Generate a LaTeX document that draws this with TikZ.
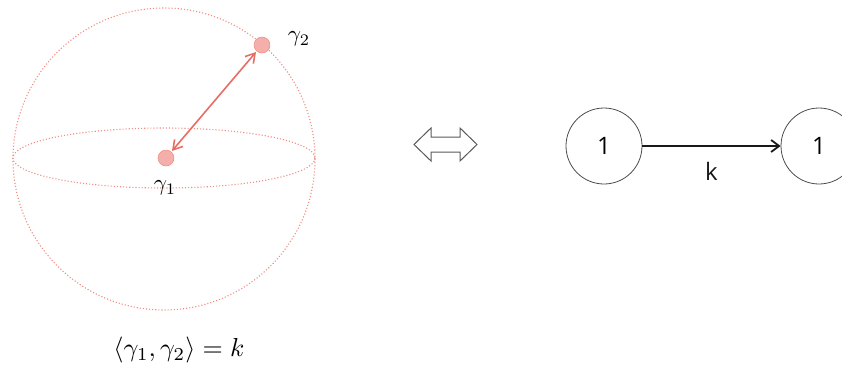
\documentclass[tikz,border=0pt]{standalone}
\usepackage{fontspec}
\newfontfamily\sansf{Open Sans}
\usetikzlibrary{arrows.meta}
\definecolor{sph}{RGB}{240,140,130}
\definecolor{ptfill}{RGB}{245,175,170}
\definecolor{ptdraw}{RGB}{236,140,130}
\definecolor{arr}{RGB}{230,110,100}
\tikzset{
  sphline/.style={draw=sph, dotted, line width=1.1pt},
  pt/.style={circle, fill=ptfill, draw=ptdraw, line width=0.5pt, minimum size=16pt, inner sep=0pt},
  vtx/.style={circle, draw=black!70, line width=0.8pt, minimum size=76pt, inner sep=0pt, font=\sansf\fontsize{24}{24}\selectfont},
  lbl/.style={inner sep=0pt}
}
\begin{document}
\begin{tikzpicture}[x=1pt,y=-1pt]
\useasboundingbox (0,0) rectangle (842,370);
% sphere
\draw[sphline] (164,159) circle (151);
\draw[sphline] (164,158) ellipse (151 and 30);
% points
\node[pt] (g1) at (166,158) {};
\node[pt] (g2) at (262,45) {};
\draw[arr, line width=1.6pt, {Straight Barb[length=9pt,width=11pt]}-{Straight Barb[length=9pt,width=11pt]}, shorten <=1pt, shorten >=1pt] (g1) -- (g2);
\node[lbl] (l1) at (165,188) {\scalebox{2.3}{$\gamma_{1}$}};
\node[lbl] (l2) at (299,39) {\scalebox{2.3}{$\gamma_{2}$}};
\node[lbl] (eq) at (179,350) {\scalebox{2.6}{$\langle\gamma_{1},\gamma_{2}\rangle = k$}};
% double arrow
\draw[black!65, line width=1pt, line join=miter]
  (414,144.5) -- (431,128) -- (431,137) -- (460,137) -- (460,128) -- (477,144.5)
  -- (460,161) -- (460,152) -- (431,152) -- (431,161) -- cycle;
% graph
\node[vtx] (a) at (604,146) {1};
\node[vtx] (b) at (819,146) {1};
\draw[black!90, line width=1.8pt, -{Straight Barb[length=8pt,width=12pt]}] (a) -- (b) node[midway, below=12pt, font=\sansf\fontsize{24}{24}\selectfont] (k) {k};
\end{tikzpicture}
\end{document}
